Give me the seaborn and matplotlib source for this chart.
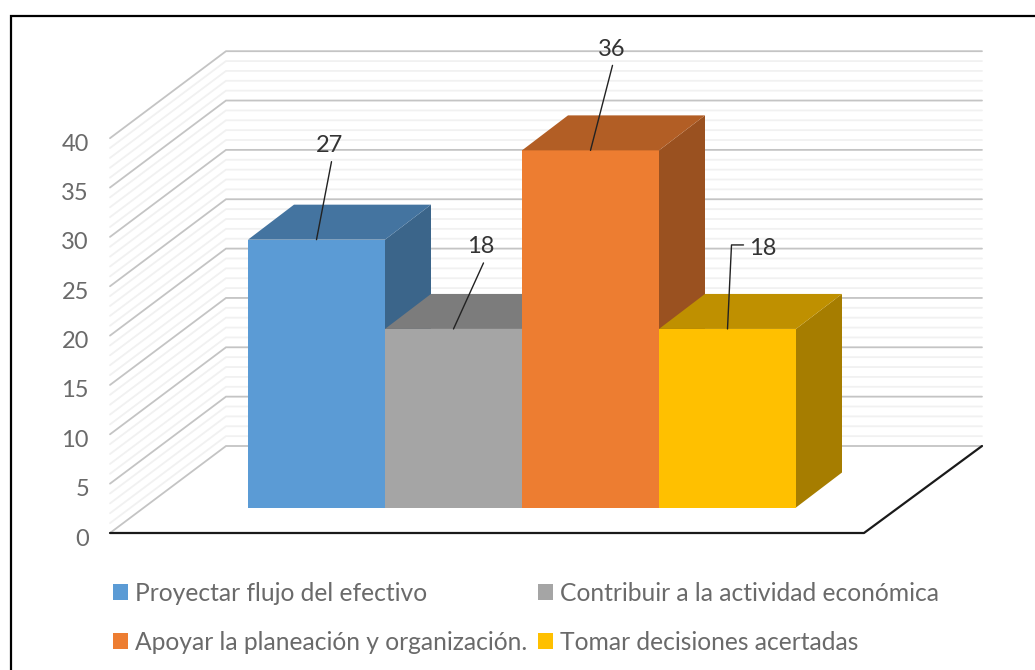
"""3D style column chart rebuilt on a flat seaborn barplot."""
import matplotlib
matplotlib.use("Agg")

import matplotlib.pyplot as plt  # noqa: E402
import numpy as np               # noqa: E402
import pandas as pd              # noqa: E402
import seaborn as sns            # noqa: E402
from matplotlib.colors import to_rgb  # noqa: E402
from matplotlib.patches import Polygon  # noqa: E402

sns.set_theme(style="white")
plt.rcParams["font.family"] = ["Lato", "DejaVu Sans"]

CATEGORIES = [
    "Proyectar flujo del efectivo",
    "Contribuir a la actividad económica",
    "Apoyar la planeación y organización.",
    "Tomar decisiones acertadas",
]
VALUES = [27, 18, 36, 18]
COLORS = ["#5B9BD5", "#A5A5A5", "#ED7D31", "#FFC000"]
MAJOR_TICKS = [0, 5, 10, 15, 20, 25, 30, 35, 40]
MINOR_TICKS = [v for v in range(1, 40) if v % 5 != 0]

TEXT_GREY = "#6A6A6A"
W, H = 1035, 670
BAR_PX = 137.0    # pixels per category
VAL_PX = 9.92     # pixels per value unit in the bar plane
WALL_SCALE = 0.995  # the back wall sits further away, so it is a bit smaller
BASE_X, BASE_Y = 248.0, 507.5  # left end and base of the first bar, in pixels

# label position, then the leader line bends, all in pixels from the bar top centre
LABEL_OFFSETS = [(13, 94), (27.5, 82), (21, 101), (35, 80)]
LEADERS = [
    [(0, 0), (15, 78)],
    [(0, 0), (30, 66)],
    [(0, 0), (22, 85)],
    [(0, 0), (4, 84), (16, 84)],
]


def dx(px):
    return px / BAR_PX


def dy(px):
    return px / VAL_PX


fig = plt.figure(figsize=(W / 100, H / 100), dpi=100)
ax = fig.add_axes([0, 0, 1, 1])

df = pd.DataFrame({"categoria": CATEGORIES, "valor": VALUES})
sns.barplot(
    data=df, x="categoria", y="valor", hue="categoria", palette=COLORS,
    width=1.0, saturation=1, legend=False, ax=ax, zorder=5,
)
bars = list(ax.patches)

ax.set_xlim(dx(0 - BASE_X) - 0.5, dx(W - BASE_X) - 0.5)
ax.set_ylim(dy(BASE_Y - H), dy(BASE_Y))
ax.axis("off")

# --------------------------------------------------------------------------- #
# Walls and floor: depth vectors are measured from the bar plane
# --------------------------------------------------------------------------- #
x_front = dx(110 - BASE_X) - 0.5
x_back = dx(226 - BASE_X) - 0.5
x_right = dx(982 - BASE_X) - 0.5
x_front_right = dx(864 - BASE_X) - 0.5
back_shift = dy(BASE_Y - 446)
front_shift = dy(BASE_Y - 533)


def wall_line(v, color, lw, z):
    wv = v * WALL_SCALE
    ax.plot(
        [x_front, x_back, x_right],
        [wv + front_shift, wv + back_shift, wv + back_shift],
        color=color, lw=lw, zorder=z, solid_joinstyle="miter",
    )


for v in MINOR_TICKS:
    wall_line(v, "#F1F1F1", 1.3, 1)
for v in MAJOR_TICKS:
    wall_line(v, "#C4C4C4", 1.3, 2)

ax.plot(
    [x_front, x_front_right, x_right],
    [front_shift, front_shift, back_shift],
    color="#1A1A1A", lw=1.6, zorder=3,
)

for v in MAJOR_TICKS:
    ax.text(
        x_front - dx(21), v * WALL_SCALE + front_shift - dy(6), str(v),
        ha="right", va="center", fontsize=17, color=TEXT_GREY,
    )

# --------------------------------------------------------------------------- #
# Depth faces of each column, taken from the seaborn bars
# --------------------------------------------------------------------------- #
depth_x, depth_y = dx(46), dy(35)
for i, (bar, color) in enumerate(zip(bars, COLORS)):
    x0, x1 = bar.get_x(), bar.get_x() + bar.get_width()
    top = bar.get_height()
    rgb = np.array(to_rgb(color))
    bar.set_zorder(5 + i)
    bar.set_edgecolor("none")
    ax.add_patch(Polygon(
        [(x1, 0), (x1 + depth_x, depth_y), (x1 + depth_x, top + depth_y), (x1, top)],
        closed=True, facecolor=rgb * 0.65, edgecolor="none", zorder=5 + i,
    ))
    ax.add_patch(Polygon(
        [(x0, top), (x0 + depth_x, top + depth_y), (x1 + depth_x, top + depth_y), (x1, top)],
        closed=True, facecolor=rgb * 0.75, edgecolor="none", zorder=5 + i,
    ))

# --------------------------------------------------------------------------- #
# Data labels with leader lines
# --------------------------------------------------------------------------- #
for bar, value, (lx, ly), leader in zip(bars, VALUES, LABEL_OFFSETS, LEADERS):
    cx = bar.get_x() + bar.get_width() / 2
    top = bar.get_height()
    ax.plot(
        [cx + dx(p[0]) for p in leader], [top + dy(p[1]) for p in leader],
        color="#222222", lw=1.0, zorder=20,
    )
    ax.text(
        cx + dx(lx), top + dy(ly), str(value), ha="center", va="center",
        fontsize=17, color="#333333", zorder=21,
    )

# --------------------------------------------------------------------------- #
# Legend and the cropped black frame
# --------------------------------------------------------------------------- #
FS = 17.7
fs_px = FS * 100 / 72
order = [0, 2, 1, 3]  # matplotlib fills the columns first
ax.legend(
    handles=[bars[i] for i in order], labels=[CATEGORIES[i] for i in order],
    ncol=2, frameon=False, fontsize=FS,
    labelcolor=TEXT_GREY, loc="upper left",
    bbox_to_anchor=(113 / W, 1 - 582 / H), bbox_transform=fig.transFigure,
    borderpad=0, borderaxespad=0, handlelength=15 / fs_px, handleheight=15 / fs_px,
    handletextpad=7 / fs_px, columnspacing=11 / fs_px, labelspacing=1.04,
)

fig.add_artist(plt.Line2D(
    [10.5 / W, 10.5 / W, 1], [0, 1 - 16 / H, 1 - 16 / H],
    color="black", lw=1.6, solid_joinstyle="miter",
))

fig.savefig("out.png", dpi=100, facecolor="white")
